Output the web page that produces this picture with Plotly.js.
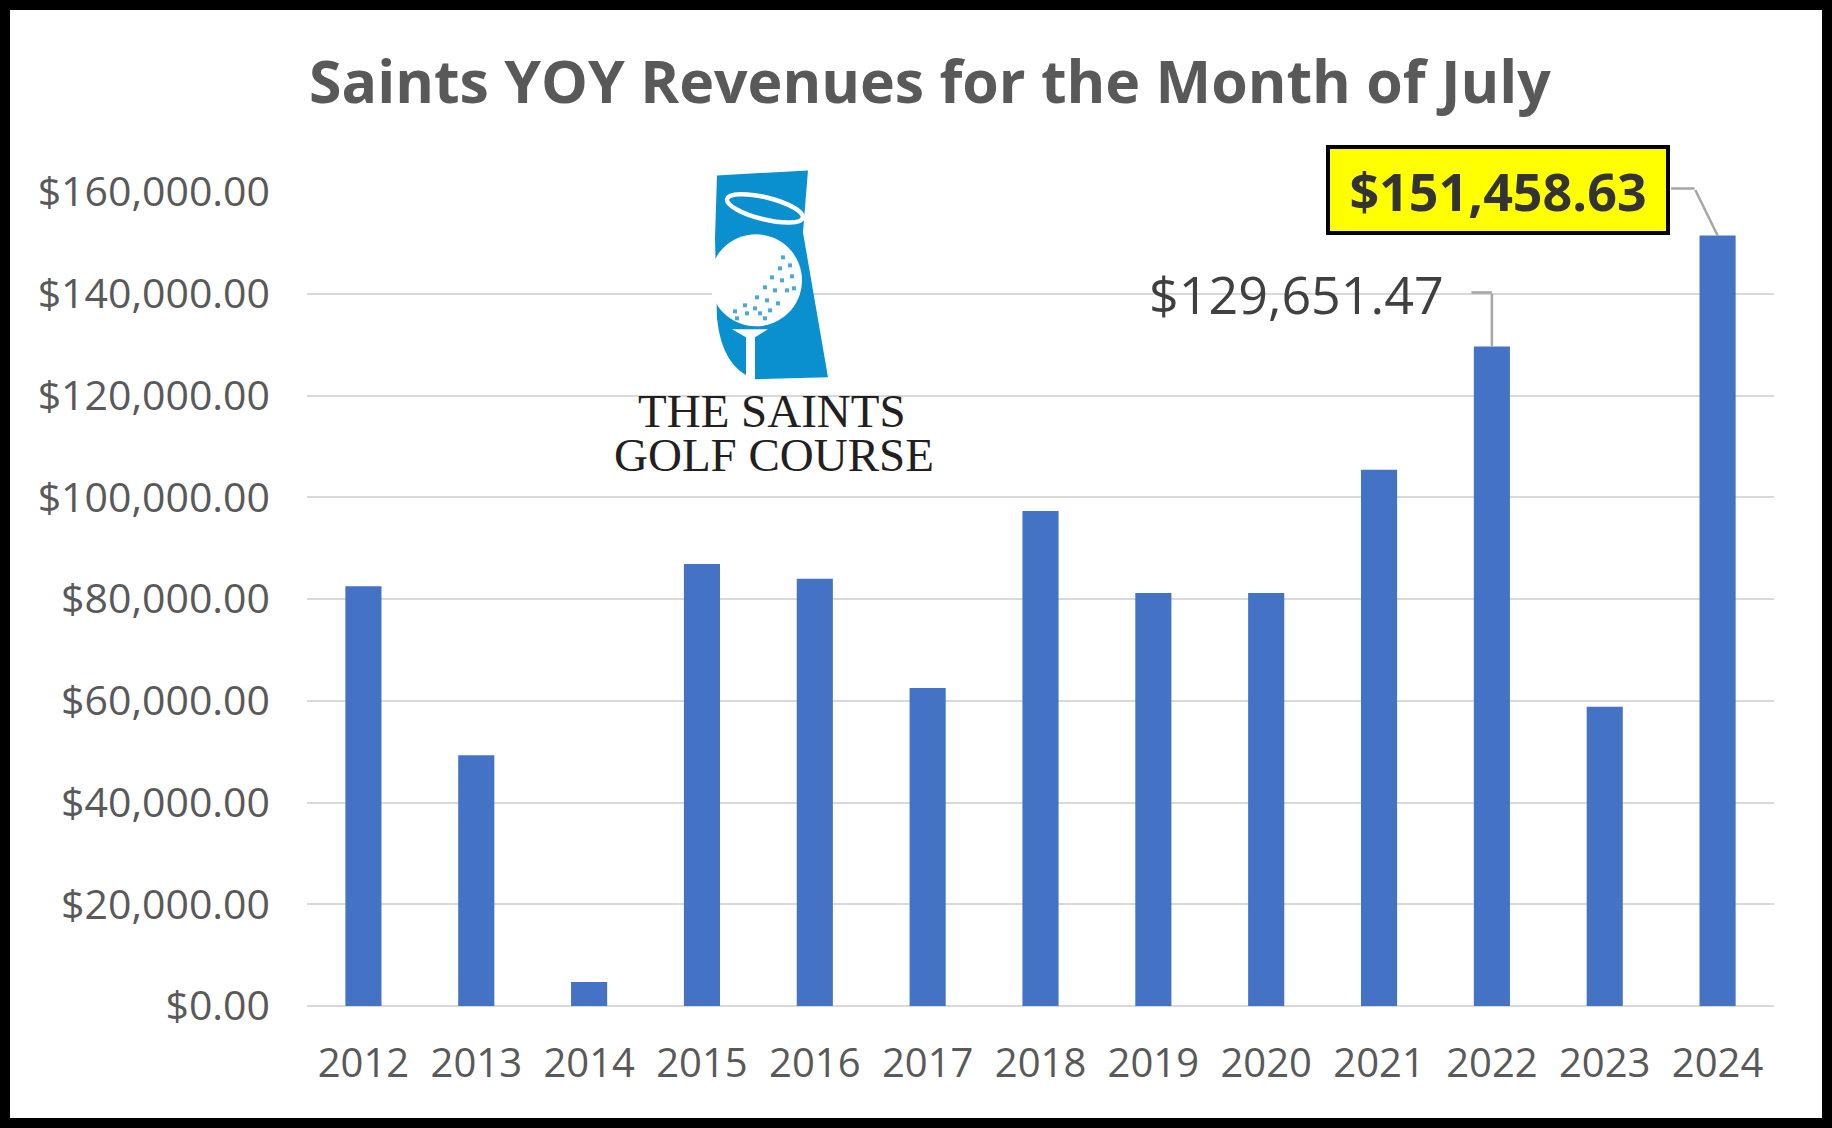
<!DOCTYPE html>
<html>
<head>
<meta charset="utf-8">
<script src="https://cdn.plot.ly/plotly-3.0.1.min.js"></script>
<style>
  html, body { margin: 0; padding: 0; background: #000; }
  #chart { position: absolute; left: 10px; top: 10px; width: 1812px; height: 1108px; background: #fff; }
</style>
</head>
<body>
<div id="chart"></div>
<script>
// ---- data ----
const years = ['2012','2013','2014','2015','2016','2017','2018','2019','2020','2021','2022','2023','2024'];
const revenues = [82500, 49300, 4700, 86900, 84000, 62500, 97300, 81200, 81200, 105400, 129651.47, 58800, 151458.63];
const chartTitle = 'Saints YOY Revenues for the Month of July';
const logoLines = ['THE SAINTS', 'GOLF COURSE'];
const labelledYear = '2022';
const highlightYear = '2024';

const fmt = v => '$' + v.toLocaleString('en-US', {minimumFractionDigits: 2, maximumFractionDigits: 2});
const idx = y => years.indexOf(y);          // category axes take the serial number
const valueOf = y => revenues[idx(y)];

// ---- logo (decoration) ----
const dimples = [[73,89],[80,97],[70,100],[62,109],[72,112],[55,119],[65,122],[77,122],[47,129],[57,132],[68,135],[35,137],[45,140],[25,143],[37,145],[50,145],[60,142],[27,150],[55,150],[82,108],[84,120]];
let dots = dimples.map(d => `<rect x="${d[0]-2}" y="${d[1]-2}" width="4" height="4" fill="#4aa9dc"/>`).join('');
const svg = `<svg xmlns="http://www.w3.org/2000/svg" width="120" height="214" viewBox="0 0 120 214">
<path d="M7,7 L98,2 L93,64 L118,209 L45,211 Q12,200 7,150 L5,70 Z" fill="#0a8fcf"/>
<ellipse cx="55" cy="40" rx="39" ry="11" transform="rotate(14 55 40)" fill="none" stroke="#fff" stroke-width="4.5"/>
<circle cx="46" cy="112" r="46" fill="#fff"/>
${dots}
<path d="M22,161 L58,161 L45,169 L45,211 L36,211 L36,169 Z" fill="#fff"/>
</svg>`;
const logoSrc = 'data:image/svg+xml;base64,' + btoa(svg);

const grey = '#A6A6A6';
const lx = idx(labelledYear), lv = valueOf(labelledYear);
const hx = idx(highlightYear), hv = valueOf(highlightYear);

const annotations = [
  // logo text
  {xref:'paper', yref:'paper', x:0.3170, y:0.7306, xanchor:'center', yanchor:'middle', showarrow:false,
   text: logoLines[0], font:{family:'Liberation Serif, serif', size:47, color:'#231F20'}},
  {xref:'paper', yref:'paper', x:0.3180, y:0.6766, xanchor:'center', yanchor:'middle', showarrow:false,
   text: logoLines[1], font:{family:'Liberation Serif, serif', size:47, color:'#231F20'}},
  // 2022 data label with elbow leader
  {x: lx, y: lv, xref:'x', yref:'y', showarrow:false, text: fmt(lv),
   xshift:-195, yshift:53, xanchor:'center', yanchor:'middle',
   font:{family:'Open Sans', size:52, color:'#404040'}},
  {x: lx, y: lv, xref:'x', yref:'y', text:'', showarrow:true, arrowhead:0, arrowwidth:2.5, arrowcolor:grey,
   ax:0, ay:-54, standoff:0, startstandoff:0},
  {x: lx, y: lv, xref:'x', yref:'y', text:'', showarrow:true, arrowhead:0, arrowwidth:2.5, arrowcolor:grey,
   ax:-22, ay:0, yshift:54, standoff:0, startstandoff:0},
  // 2024 highlighted label
  {x: hx, y: hv, xref:'x', yref:'y', showarrow:false, text: '<b>' + fmt(hv) + '</b>',
   xshift:-220, yshift:45, xanchor:'center', yanchor:'middle',
   bgcolor:'#FFFF00', bordercolor:'#000', borderwidth:4, borderpad:0, width:336, height:82,
   font:{family:'Open Sans', size:52, color:'#333333'}},
  {x: hx, y: hv, xref:'x', yref:'y', text:'', showarrow:true, arrowhead:0, arrowwidth:2.5, arrowcolor:grey,
   ax:-23, ay:-47, standoff:0, startstandoff:0},
  {x: hx, y: hv, xref:'x', yref:'y', text:'', showarrow:true, arrowhead:0, arrowwidth:2.5, arrowcolor:grey,
   ax:-25, ay:0, xshift:-23, yshift:47, standoff:0, startstandoff:0}
];

const trace = {
  type: 'bar', x: years, y: revenues,
  marker: {color: '#4472C4'},
  hoverinfo: 'skip'
};

const layout = {
  width: 1812, height: 1108,
  paper_bgcolor: '#fff', plot_bgcolor: '#fff',
  margin: {l: 297, r: 48, t: 182, b: 112, pad: 0},
  showlegend: false,
  bargap: 0.68,
  title: {text: '<b>' + chartTitle + '</b>', xref:'container', yref:'container', x: 0.5077, y: 0.935,
          xanchor:'center', yanchor:'middle',
          font: {family: 'Open Sans', size: 59, color: '#595959'}},
  xaxis: {type:'category', range:[-0.5, years.length - 0.5], autorange:false,
          showgrid:false, zeroline:false, showline:false, ticks:'',
          ticklabelstandoff: 30,
          tickfont: {family:'Open Sans', size:40, color:'#595959'}},
  yaxis: {range:[0,160000], autorange:false, tick0:0, dtick:20000, tickprefix:'$', tickformat:',.2f',
          showgrid:true, gridcolor:'#D9D9D9', gridwidth:2,
          zeroline:true, zerolinecolor:'#D9D9D9', zerolinewidth:2.5,
          showline:false, ticks:'', ticklabelstandoff: 36,
          tickfont: {family:'Open Sans', size:41, color:'#595959'}},
  images: [{source: logoSrc, xref:'paper', yref:'paper', x:0.2747, y:1.029, sizex:0.0818, sizey:0.2628,
            sizing:'stretch', xanchor:'left', yanchor:'top', layer:'above'}],
  annotations: annotations
};

Plotly.newPlot('chart', [trace], layout, {staticPlot: true, displayModeBar: false});
</script>
</body>
</html>
